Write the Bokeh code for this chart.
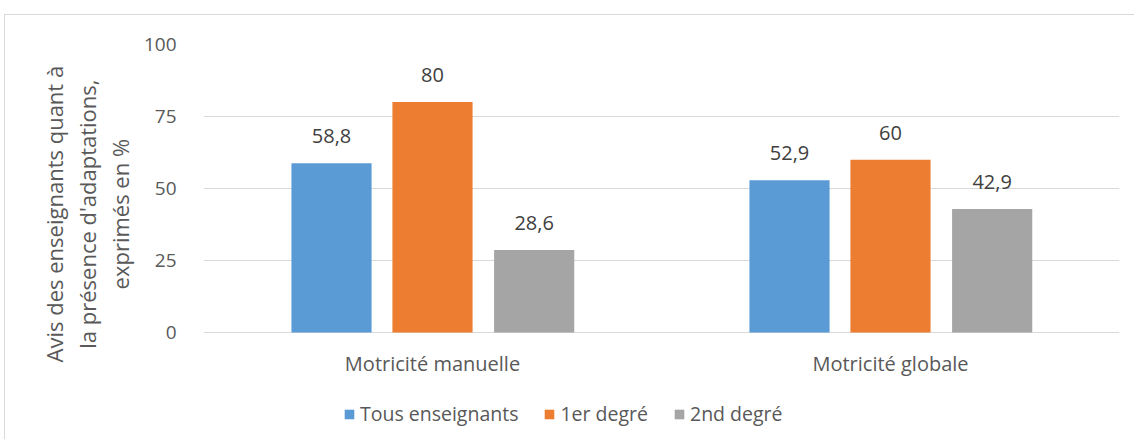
from bokeh.plotting import figure
from bokeh.models import FactorRange, Range1d, ColumnDataSource, FixedTicker, Legend, LegendItem
from bokeh.transform import dodge
from bokeh.core.properties import value
from bokeh.embed import file_html
from bokeh.resources import INLINE

categories = ["Motricité manuelle", "Motricité globale"]
series_names = ["Tous enseignants", "1er degré", "2nd degré"]
tous = [58.8, 52.9]
premier = [80, 60]
second = [28.6, 42.9]
colors = ["#5B9BD5", "#ED7D31", "#A5A5A5"]
y_ticks = [0, 25, 50, 75, 100]
y_title_lines = ["Avis des enseignants quant à", "la présence d'adaptations,", "exprimés en %"]

FONT = "Open Sans"
TXT = "#595959"

def fmt(v):
    s = ("%.1f" % v).rstrip("0").rstrip(".")
    return s.replace(".", ",")

src = ColumnDataSource(dict(
    cat=categories,
    s0=tous, s1=premier, s2=second,
    l0=[fmt(v) for v in tous], l1=[fmt(v) for v in premier], l2=[fmt(v) for v in second],
))
cat_src = ColumnDataSource(dict(cat=categories, base=[0] * len(categories)))

# frame extends below zero so that the category labels and legend live inside it
p = figure(
    x_range=FactorRange(factors=categories, range_padding=0),
    y_range=Range1d(-33.7, 100),
    width=1130, height=425,
    output_backend="svg", toolbar_location=None,
    min_border_left=198, min_border_right=16, min_border_top=29, min_border_bottom=11,
)
p.margin = (14, 0, 0, 4)
p.styles = {"border-left": "1px solid #D9D9D9", "border-top": "1px solid #D9D9D9"}
p.outline_line_color = None

offsets = [-0.2205, 0.0, 0.222]
bw = 0.175
renderers = []
for i, (name, col) in enumerate(zip(series_names, colors)):
    r = p.vbar(x=dodge("cat", offsets[i], range=p.x_range), top="s%d" % i, width=bw,
               source=src, fill_color=col, line_color=None)
    renderers.append(r)
    p.text(x=dodge("cat", offsets[i], range=p.x_range), y="s%d" % i, text="l%d" % i,
           source=src, text_align="center", text_baseline="middle", y_offset=-27,
           text_font=value(FONT), text_font_size="20px", text_color="#404040")

# category labels under the zero line
p.text(x="cat", y="base", text="cat", source=cat_src, text_align="center",
       text_baseline="middle", y_offset=31, text_font=value(FONT),
       text_font_size="20px", text_color=TXT)

legend = Legend(items=[LegendItem(label=n, renderers=[r]) for n, r in zip(series_names, renderers)],
                orientation="horizontal", location=(140, 2))
legend.background_fill_alpha = 0
legend.border_line_color = None
legend.padding = 0
legend.margin = 0
legend.spacing = 25
legend.glyph_width = 12
legend.glyph_height = 12
legend.label_standoff = 5
legend.label_text_font = FONT
legend.label_text_font_size = "19.5px"
legend.label_text_color = TXT
p.add_layout(legend, "center")

p.ygrid.ticker = FixedTicker(ticks=y_ticks)
p.ygrid.grid_line_color = "#D9D9D9"
p.xgrid.grid_line_color = None

p.xaxis.visible = False

pad = "\u00a0" * 8
p.yaxis.ticker = FixedTicker(ticks=y_ticks)
p.yaxis.axis_line_color = None
p.yaxis.major_tick_line_color = None
p.yaxis.minor_tick_line_color = None
p.yaxis.major_label_standoff = 21
p.yaxis.major_label_text_font = FONT
p.yaxis.major_label_text_font_size = "19px"
p.yaxis.major_label_text_color = TXT
p.yaxis.axis_label = "\n".join(pad + t for t in y_title_lines)
p.yaxis.axis_label_text_font = FONT
p.yaxis.axis_label_text_font_size = "22px"
p.yaxis.axis_label_text_font_style = "normal"
p.yaxis.axis_label_text_color = TXT
p.yaxis.axis_label_text_line_height = 1.1
p.yaxis.axis_label_standoff = 6

open("out.html", "w").write(file_html(p, INLINE))
